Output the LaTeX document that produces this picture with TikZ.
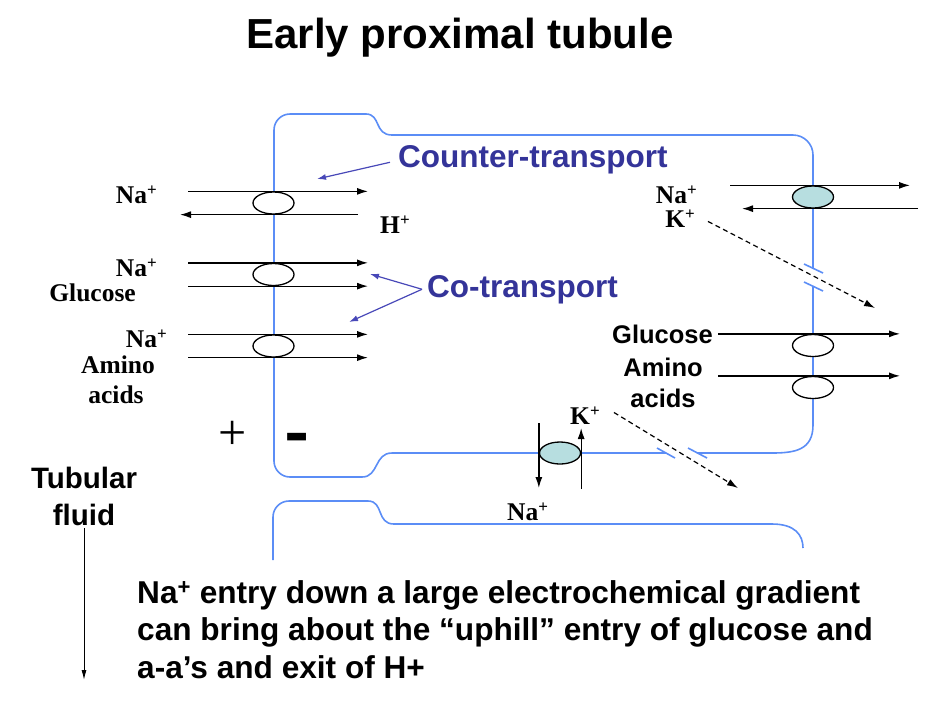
\documentclass[tikz,border=0pt]{standalone}
\usepackage{fontspec}
\setmainfont{Liberation Serif}
\newfontfamily\arialfont{Liberation Sans}
\usetikzlibrary{arrows.meta,shapes.geometric}

\definecolor{memblue}{HTML}{5B8DF6}
\definecolor{callblue}{HTML}{343499}
\definecolor{pointblue}{HTML}{4848B8}
\definecolor{pumpfill}{HTML}{B7DEE0}

\providecommand{\ionplus}{\raisebox{7.5pt}{\fontsize{17}{17}\selectfont +}}

\tikzset{
  membrane/.style={memblue, line width=1.6pt},
  flux/.style={black, line width=1.3pt, -{Latex[length=11pt,width=7pt]}},
  leak/.style={black, line width=1.2pt, dash pattern=on 5pt off 3.5pt,
    -{Latex[length=11pt,width=7pt]}},
  carrier/.style={ellipse, draw=black, line width=1.3pt, fill=white,
    minimum width=41pt, minimum height=22pt, inner sep=0pt},
  pump/.style={carrier, fill=pumpfill},
  ion/.style={font=\bfseries\fontsize{25.5}{28}\selectfont, inner sep=0pt},
  solute/.style={font=\arialfont\bfseries\fontsize{25.5}{31}\selectfont, inner sep=0pt},
  callout/.style={text=callblue, font=\arialfont\bfseries\fontsize{31.5}{38}\selectfont,
    inner sep=0pt},
  pointer/.style={pointblue, line width=1.2pt, -{Latex[length=9pt,width=6pt]}},
}

\begin{document}
\begin{tikzpicture}[x=1pt, y=-1pt]
  \useasboundingbox (0,0) rectangle (952,716);

  \node[font=\arialfont\bfseries\fontsize{42}{50}\selectfont, anchor=base, inner sep=0pt]
    (title) at (460,48) {Early proximal tubule};

  % --------------------------------------------------------------------------
  % Cell outlines
  % --------------------------------------------------------------------------
  \draw[membrane, rounded corners=16pt] (366,114) -- (274,114) -- (274,477) -- (362,477);
  \draw[membrane] (366,114) .. controls (381,114) and (374,135) .. (392,135);
  \draw[membrane, rounded corners=20pt] (392,135) -- (813,135) -- (813,268);
  \draw[membrane] (813,287) -- (813,425) .. controls (813,450) and (795,453) .. (772,453)
    -- (697,453);
  \draw[membrane] (666,453) -- (392,453) .. controls (374,453) and (379,477) .. (362,477);

  % neighbouring cell
  \draw[membrane, rounded corners=16pt] (273,560) -- (273,501) -- (368,501);
  \draw[membrane] (368,501) .. controls (384,501) and (376,524) .. (394,524)
    -- (772,524) .. controls (795,524) and (803,535) .. (803,548);

  % breaks where the K+ leak crosses
  \draw[membrane] (804,264) -- (823,273);
  \draw[membrane] (804,282) -- (823,291);
  \draw[membrane] (657,448) -- (675,458);
  \draw[membrane] (688,448) -- (707,458);

  % --------------------------------------------------------------------------
  % Carriers
  % --------------------------------------------------------------------------
  \node[carrier] (nhe)   at (273.5,203)   {};
  \node[carrier] (sglt)  at (273.5,274.5) {};
  \node[carrier] (naaa)  at (273.5,346)   {};
  \node[pump]    (nakap) at (813,197)     {};
  \node[carrier] (glut)  at (813,345.5)   {};
  \node[carrier] (aaex)  at (813,387.5)   {};
  \node[pump]    (nakbl) at (560,453)     {};

  % luminal side
  \draw[flux] ([xshift=-85.5pt]nhe.north)  -- ([xshift=94.5pt]nhe.north);
  \draw[flux] ([xshift=84.5pt]nhe.south)   -- ([xshift=-93.5pt]nhe.south);
  \draw[flux] ([xshift=-85.5pt]sglt.north) -- ([xshift=94.5pt]sglt.north);
  \draw[flux] ([xshift=-85.5pt]sglt.south) -- ([xshift=94.5pt]sglt.south);
  \draw[flux] ([xshift=-85.5pt]naaa.north) -- ([xshift=94.5pt]naaa.north);
  \draw[flux] ([xshift=-85.5pt]naaa.south) -- ([xshift=94.5pt]naaa.south);

  % basolateral side
  \draw[flux] ([xshift=-83pt]nakap.north) -- ([xshift=97pt]nakap.north);
  \draw[flux] ([xshift=105pt]nakap.south) -- ([xshift=-71pt]nakap.south);
  \draw[flux] ([xshift=-95pt]glut.north)  -- ([xshift=87pt]glut.north);
  \draw[flux] ([xshift=-95pt]aaex.north)  -- ([xshift=87pt]aaex.north);
  \draw[flux] ([yshift=30pt]nakbl.west)   -- ([yshift=-35pt]nakbl.west);
  \draw[flux] ([yshift=-36pt]nakbl.east)  -- ([yshift=25pt]nakbl.east);

  % --------------------------------------------------------------------------
  % Labels
  % --------------------------------------------------------------------------
  \node[ion, anchor=base east] (nal1)   at (157,203) {Na\ionplus};
  \node[ion, anchor=base west] (hl)     at (380,233) {H\ionplus};
  \node[ion, anchor=base east] (nal2)   at (157,276) {Na\ionplus};
  \node[ion, anchor=base east] (gluc1)  at (136,301) {Glucose};
  \node[ion, anchor=base east] (nal3)   at (167,347) {Na\ionplus};
  \node[ion, anchor=base]      (amino1) at (118,373) {Amino};
  \node[ion, anchor=base]      (acids1) at (116,403) {acids};

  \node[ion, anchor=base east] (nar) at (697,203) {Na\ionplus};
  \node[ion, anchor=base east] (kr)  at (695,227) {K\ionplus};
  \node[ion, anchor=base west] (kb)  at (570,424) {K\ionplus};
  \node[ion, anchor=base west] (nab) at (507,520) {Na\ionplus};

  \node[solute, anchor=base east] (gluc2)  at (713,343) {Glucose};
  \node[solute, anchor=base]      (amino2) at (663,376) {Amino};
  \node[solute, anchor=base]      (acids2) at (663,407) {acids};

  % K+ leak through the channels
  \coordinate (leakr) at (875,308);
  \coordinate (leakb) at (738,488);
  \draw[leak] ([xshift=13pt,yshift=-3pt]kr.east) -- (leakr);
  \draw[leak] ([xshift=14pt,yshift=3pt]kb.east) -- (leakb);

  % --------------------------------------------------------------------------
  % Transport callouts
  % --------------------------------------------------------------------------
  \node[callout, anchor=base west] (counter) at (398,167) {Counter-transport};
  \node[callout, anchor=base west] (cotrans) at (427,297) {Co-transport};

  \coordinate (countertip) at (317,179);
  \coordinate (cotipa) at (370,274);
  \coordinate (cotipb) at (349,322);
  \draw[pointer] ([xshift=-8pt,yshift=-3pt]counter.west) -- (countertip);
  \draw[pointer] ([xshift=-5pt]cotrans.west) -- (cotipa);
  \draw[pointer] ([xshift=-5pt]cotrans.west) -- (cotipb);

  % potential across the apical membrane
  \node[font=\fontsize{50}{50}\selectfont, inner sep=0pt] (plus) at (233,435) {+};
  \node[font=\arialfont\bfseries\fontsize{38}{40}\selectfont, inner sep=0pt]
    (minus) at (297,445) {\scalebox{1}[2]{–}};

  % --------------------------------------------------------------------------
  % Tubular fluid and summary
  % --------------------------------------------------------------------------
  \node[font=\arialfont\bfseries\fontsize{29.5}{37}\selectfont, align=center,
    anchor=north, inner sep=0pt] (tubular) at (84,467) {Tubular\\fluid};
  \coordinate (flowend) at (84,680);
  \draw[black, line width=1pt, -{Latex[length=10pt,width=5pt]}]
    ([yshift=-2pt]tubular.south) -- (flowend);

  \node[font=\arialfont\bfseries\fontsize{31.6}{37.5}\selectfont, align=left,
    anchor=north west, inner sep=0pt] (summary) at (137,580)
    {Na\textsuperscript{+} entry down a large electrochemical gradient\\
     can bring about the “uphill” entry of glucose and\\
     a-a’s and exit of H+};

\end{tikzpicture}
\end{document}
